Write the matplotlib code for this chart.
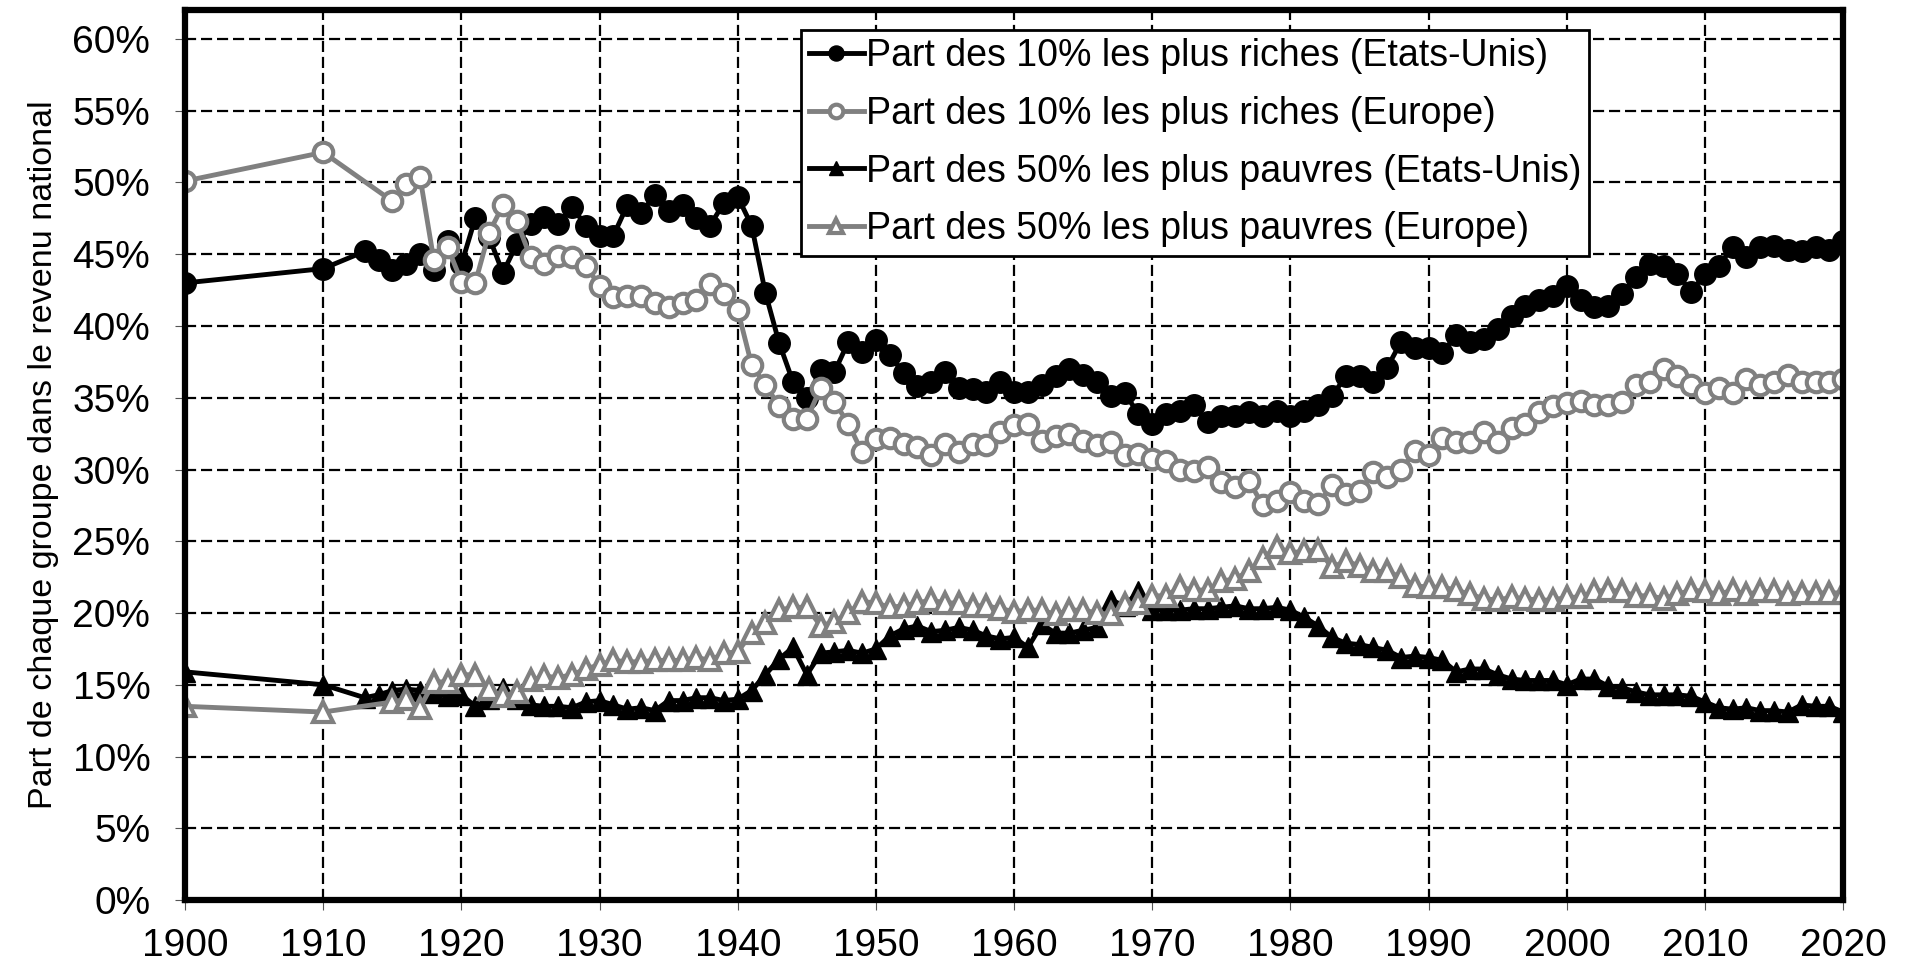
import numpy as np
import matplotlib
matplotlib.use("Agg")
import matplotlib.pyplot as plt
from matplotlib.ticker import FuncFormatter

plt.rcParams['font.family'] = ['Liberation Sans', 'DejaVu Sans']

# years
years_us = [1900, 1910] + list(range(1913, 2021))
years_eu = [1900, 1910] + list(range(1915, 2021))

# Part des 10% les plus riches (Etats-Unis), en %
us_top10 = [43.0, 44.0,
            45.2, 44.6, 43.9, 44.3, 45.0, 43.9, 45.9,
            44.3, 47.5, 46.2, 43.7, 45.7, 47.1, 47.6, 47.1, 48.3, 47.0,
            46.3, 46.3, 48.4, 47.9, 49.1, 48.0, 48.4, 47.5, 47.0, 48.6,
            49.0, 47.0, 42.3, 38.8, 36.1, 35.0, 36.9, 36.8, 38.9, 38.2,
            39.0, 38.0, 36.7, 35.8, 36.1, 36.8, 35.7, 35.6, 35.4, 36.1,
            35.4, 35.4, 35.9, 36.5, 37.0, 36.6, 36.1, 35.1, 35.3, 33.9,
            33.2, 33.9, 34.1, 34.5, 33.3, 33.7, 33.7, 34.0, 33.7, 34.1,
            33.7, 34.1, 34.5, 35.1, 36.5, 36.5, 36.1, 37.1, 38.9, 38.5,
            38.5, 38.1, 39.4, 38.9, 39.1, 39.8, 40.7, 41.4, 41.8, 42.1,
            42.8, 41.8, 41.3, 41.4, 42.2, 43.4, 44.3, 44.2, 43.6, 42.4,
            43.6, 44.2, 45.5, 44.8, 45.5, 45.6, 45.3, 45.2, 45.5, 45.3,
            45.9]

# Part des 10% les plus riches (Europe)
eu_top10 = [50.1, 52.1,
            48.7, 49.9, 50.4, 44.6, 45.5,
            43.1, 43.0, 46.5, 48.4, 47.3, 44.8, 44.3, 44.9, 44.8, 44.2,
            42.8, 42.0, 42.1, 42.1, 41.6, 41.3, 41.6, 41.8, 42.9, 42.2,
            41.1, 37.3, 35.9, 34.4, 33.5, 33.5, 35.7, 34.7, 33.2, 31.2,
            32.1, 32.2, 31.8, 31.6, 31.0, 31.8, 31.2, 31.8, 31.7, 32.6,
            33.1, 33.2, 32.0, 32.3, 32.5, 32.0, 31.7, 31.9, 31.0, 31.1,
            30.7, 30.6, 30.0, 29.9, 30.2, 29.1, 28.8, 29.2, 27.5, 27.8,
            28.4, 27.8, 27.6, 28.9, 28.3, 28.5, 29.8, 29.5, 30.0, 31.3,
            31.0, 32.2, 31.9, 31.9, 32.6, 31.9, 32.9, 33.2, 34.0, 34.4,
            34.6, 34.8, 34.5, 34.5, 34.7, 35.9, 36.1, 37.0, 36.5, 35.9,
            35.3, 35.7, 35.3, 36.3, 35.9, 36.1, 36.6, 36.1, 36.1, 36.1,
            36.3]

# Part des 50% les plus pauvres (Etats-Unis)
us_bot50 = [15.9, 15.0,
            14.1, 14.3, 14.6, 14.7, 14.6, 14.4, 14.2,
            14.3, 13.5, 14.0, 14.8, 14.0, 13.6, 13.5, 13.5, 13.4, 13.8,
            13.9, 13.6, 13.3, 13.4, 13.2, 13.9, 13.9, 14.1, 14.1, 13.9,
            14.0, 14.6, 15.7, 16.8, 17.6, 15.7, 17.2, 17.3, 17.4, 17.2,
            17.5, 18.4, 18.9, 19.1, 18.7, 18.8, 19.0, 18.8, 18.4, 18.2,
            18.3, 17.6, 19.2, 18.6, 18.6, 18.8, 19.0, 20.9, 20.5, 21.5,
            20.2, 20.2, 20.2, 20.3, 20.3, 20.4, 20.5, 20.3, 20.3, 20.4,
            20.2, 19.7, 19.1, 18.3, 17.9, 17.8, 17.6, 17.4, 16.9, 17.0,
            16.9, 16.7, 15.9, 16.1, 16.1, 15.7, 15.4, 15.3, 15.3, 15.3,
            15.0, 15.4, 15.4, 14.9, 14.8, 14.5, 14.3, 14.3, 14.3, 14.2,
            13.8, 13.4, 13.3, 13.4, 13.2, 13.2, 13.1, 13.6, 13.5, 13.5,
            13.1]

# Part des 50% les plus pauvres (Europe)
eu_bot50 = [13.5, 13.1,
            13.8, 14.0, 13.4, 15.2, 15.2,
            15.7, 15.7, 14.7, 14.2, 14.5, 15.3, 15.6, 15.5, 15.7, 16.1,
            16.4, 16.7, 16.6, 16.6, 16.7, 16.7, 16.7, 16.9, 16.7, 17.2,
            17.3, 18.6, 19.3, 20.2, 20.4, 20.4, 19.1, 19.4, 20.0, 20.8,
            20.7, 20.4, 20.5, 20.7, 20.9, 20.7, 20.7, 20.5, 20.5, 20.3,
            20.1, 20.2, 20.2, 19.9, 20.2, 20.2, 20.0, 19.9, 20.6, 20.7,
            21.2, 21.2, 21.8, 21.6, 21.6, 22.2, 22.4, 22.9, 23.8, 24.6,
            24.2, 24.3, 24.4, 23.2, 23.6, 23.3, 22.9, 22.9, 22.5, 21.9,
            21.8, 21.8, 21.6, 21.3, 21.0, 20.9, 21.1, 21.0, 20.9, 20.9,
            21.1, 21.1, 21.5, 21.6, 21.5, 21.2, 21.2, 21.0, 21.3, 21.6,
            21.5, 21.3, 21.6, 21.3, 21.5, 21.5, 21.3, 21.4, 21.4, 21.4,
            21.4]

labels = ["Part des 10% les plus riches (Etats-Unis)",
          "Part des 10% les plus riches (Europe)",
          "Part des 50% les plus pauvres (Etats-Unis)",
          "Part des 50% les plus pauvres (Europe)"]

grey = "#808080"

fig = plt.figure(figsize=(19.12, 9.68), dpi=100)
ax = fig.add_axes([0.0968, 0.0702, 0.8672, 0.9192])

ax.plot(years_us, us_top10, color="black", lw=3.5, marker="o", ms=15.5,
        mfc="black", mec="black", label=labels[0], zorder=3)
ax.plot(years_eu, eu_top10, color=grey, lw=3.5, marker="o", ms=14,
        mfc="white", mec=grey, mew=3, label=labels[1], zorder=4)
ax.plot(years_us, us_bot50, color="black", lw=3.5, marker="^", ms=15,
        mfc="black", mec="black", label=labels[2], zorder=3)
ax.plot(years_eu, eu_bot50, color=grey, lw=3.5, marker="^", ms=15,
        mfc="white", mec=grey, mew=3, label=labels[3], zorder=4)

ax.set_xlim(1900, 2020)
ax.set_ylim(0, 62)
ax.set_xticks(range(1900, 2021, 10))
ax.set_yticks(range(0, 61, 5))
ax.yaxis.set_major_formatter(FuncFormatter(lambda v, p: f"{v:.0f}%"))

ax.grid(True, color="black", lw=1.6, linestyle=(0, (5, 2.2)))
ax.set_axisbelow(True)
for s in ax.spines.values():
    s.set_linewidth(4.5)
    s.set_zorder(5)

ax.tick_params(axis="both", labelsize=28, length=7, width=0.8, color="#555555")
ax.tick_params(axis="y", pad=18)
ax.tick_params(axis="x", pad=13)

ax.set_ylabel("Part de chaque groupe dans le revenu national", fontsize=24.5, labelpad=10)

leg = ax.legend(loc="upper left", bbox_to_anchor=(0.3715, 0.978), fontsize=27,
                frameon=True, fancybox=False, framealpha=1, edgecolor="black",
                handlelength=1.45, handletextpad=0.05, borderpad=0.22,
                labelspacing=0.58, borderaxespad=0, markerscale=0.7)
leg.get_frame().set_linewidth(2)
leg.set_zorder(6)

fig.savefig("out.png", dpi=100)
